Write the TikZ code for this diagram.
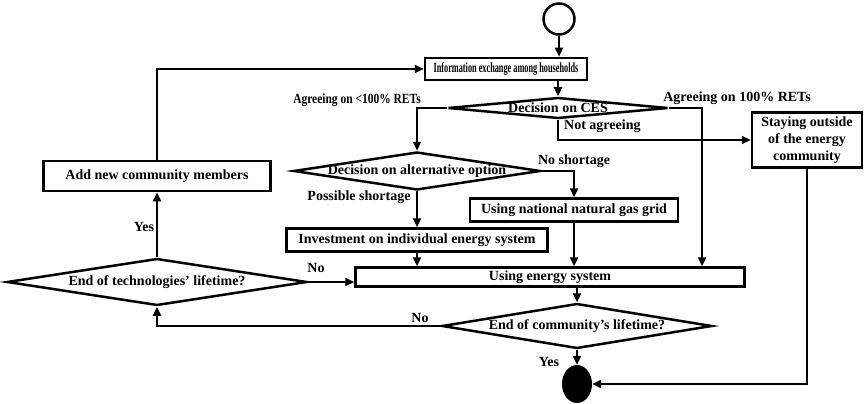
\documentclass[tikz,border=0pt]{standalone}
\usepackage{fontspec}
\setmainfont{Liberation Serif}
\newfontfamily\tightfont[FakeStretch=0.59]{Liberation Serif}
\newfontfamily\narrowfont[FakeStretch=0.82]{Liberation Serif}
\usetikzlibrary{shapes.geometric,arrows.meta}
\tikzset{
  box/.style={draw,line width=2.5pt,rectangle,inner sep=0pt,font=\fontsize{14}{17}\selectfont\bfseries},
  choice/.style={draw,line width=2.5pt,diamond,inner sep=0pt},
  txt/.style={font=\fontsize{14}{17}\selectfont\bfseries,inner sep=0pt},
  flow/.style={line width=2.5pt,-{Triangle[length=9pt,width=8pt]}}
}
\begin{document}
\begin{tikzpicture}[x=1pt,y=-1pt]
\useasboundingbox (0,0) rectangle (868,404);
% start and stop
\node[circle,draw,line width=2.5pt,minimum size=31pt,inner sep=0pt] (start) at (559,19) {};
\node[ellipse,fill=black,minimum width=30pt,minimum height=38pt,inner sep=0pt] (stop) at (577,384) {};
% boxes
\node[box,minimum width=162pt,minimum height=22pt] (info) at (506,69) {\tightfont Information exchange among households};
\node[box,minimum width=110pt,minimum height=55pt,align=center] (outside) at (807,140) {Staying outside\\of the energy\\community};
\node[box,minimum width=227pt,minimum height=30pt] (add) at (157,176) {Add new community members};
\node[box,minimum width=208pt,minimum height=23pt] (gas) at (574,210) {Using national natural gas grid};
\node[box,minimum width=261pt,minimum height=23pt] (invest) at (417,240) {Investment on individual energy system};
\node[box,minimum width=389pt,minimum height=19pt] (using) at (550,277) {Using energy system};
% decisions
\node[choice,minimum width=220pt,minimum height=21pt,label={[txt]center:Decision on CES}] (ces) at (558,108) {};
\node[choice,minimum width=247pt,minimum height=38pt,label={[txt]center:Decision on alternative option}] (alt) at (417,171) {};
\node[choice,minimum width=300pt,minimum height=47pt,label={[txt]center:End of technologies' lifetime?}] (techs) at (157,282) {};
\node[choice,minimum width=270pt,minimum height=45pt,label={[txt]center:End of community's lifetime?}] (comm) at (577,326) {};
% branch labels
\node[txt] (lessres) at (357,100) {\narrowfont Agreeing on <100\% RETs};
\node[txt] (fullres) at (737,98) {Agreeing on 100\% RETs};
\node[txt,anchor=west] (notagree) at (564,126) {Not agreeing};
\node[txt] (noshort) at (574,161) {No shortage};
\node[txt] (short) at (359,197) {Possible shortage};
\node[txt] (yesadd) at (144,227) {Yes};
\node[txt] (nouse) at (316,268) {No};
\node[txt] (nocomm) at (420,318) {No};
\node[txt] (yesend) at (549,362) {Yes};
% connectors
\coordinate (full) at (702,108);
\draw[flow] (start.south) -- (start.south |- info.north);
\draw[flow] (ces.north |- info.south) -- (ces.north);
\draw[flow] (ces.west) -- (ces.west -| alt.north) -- (alt.north);
\draw[flow] (ces.east) -- (full) -- (full |- using.north);
\draw[flow] (ces.south) -- (ces.south |- outside.west) -- (outside.west);
\draw[flow] (alt.east) -- (alt.east -| gas.north) -- (gas.north);
\draw[flow] (alt.south) -- (invest.north);
\draw[flow] (invest.south) -- (invest.south |- using.north);
\draw[flow] (gas.south) -- (gas.south |- using.north);
\draw[flow] (comm.north |- using.south) -- (comm.north);
\draw[flow] (comm.south) -- (stop.north);
\draw[flow] (comm.west) -- (comm.west -| techs.south) -- (techs.south);
\draw[flow] (techs.east) -- (techs.east -| using.west);
\draw[flow] (techs.north) -- (add.south);
\draw[flow] (add.north) -- (add.north |- info.west) -- (info.west);
\draw[flow] (outside.south) -- (outside.south |- stop.east) -- (stop.east);
\end{tikzpicture}
\end{document}
